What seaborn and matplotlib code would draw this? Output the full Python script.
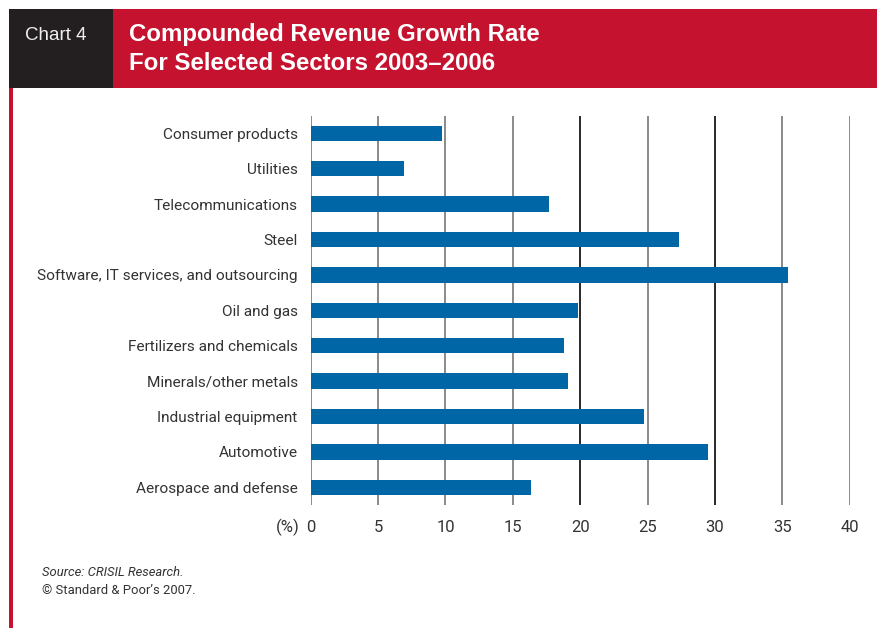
import matplotlib
matplotlib.use("Agg")
import matplotlib.pyplot as plt
import seaborn as sns
import pandas as pd
from matplotlib.patches import Rectangle

# ---- data ----
sectors = [
    "Consumer products",
    "Utilities",
    "Telecommunications",
    "Steel",
    "Software, IT services, and outsourcing",
    "Oil and gas",
    "Fertilizers and chemicals",
    "Minerals/other metals",
    "Industrial equipment",
    "Automotive",
    "Aerospace and defense",
]
growth = [9.75, 6.9, 17.7, 27.35, 35.4, 19.8, 18.8, 19.1, 24.75, 29.5, 16.35]
x_ticks = [0, 5, 10, 15, 20, 25, 30, 35, 40]
x_tick_labels = ["0", "5", "10", "15", "20", "25", "30", "35", "40"]

title_lines = ["Compounded Revenue Growth Rate", "For Selected Sectors 2003\u20132006"]
chart_label = "Chart 4"
source_text = "Source: CRISIL Research."
copyright_text = "\u00a9 Standard & Poor\u2019s 2007."

# ---- styling ----
sns.set_theme(style="white")
plt.rcParams["font.family"] = ["Roboto", "Liberation Sans", "DejaVu Sans"]

W, H = 877, 628
fig = plt.figure(figsize=(W / 100, H / 100), dpi=100)

def fx(x):
    return x / W

def fy(y):
    return 1 - y / H

RED = "#c4122f"
DARK = "#231f20"
BLUE = "#0066a6"
TEXT = "#333333"
HEAD_FONT = ["Liberation Sans", "DejaVu Sans"]

# header blocks
fig.add_artist(Rectangle((fx(9), fy(88)), fx(113) - fx(9), fy(9) - fy(88),
                         transform=fig.transFigure, color=DARK, lw=0))
fig.add_artist(Rectangle((fx(113), fy(88)), fx(877) - fx(113), fy(9) - fy(88),
                         transform=fig.transFigure, color=RED, lw=0))
# left red rule
fig.add_artist(Rectangle((fx(9), fy(628)), fx(13) - fx(9), fy(88) - fy(628),
                         transform=fig.transFigure, color=RED, lw=0))

fig.text(fx(25), fy(36), chart_label, color="#f0f0f0", fontsize=13.5,
         family=HEAD_FONT, va="center", ha="left")
fig.text(fx(129), fy(34), title_lines[0], color="white", fontsize=17.3,
         fontweight="bold", family=HEAD_FONT, va="center", ha="left")
fig.text(fx(129), fy(63), title_lines[1], color="white", fontsize=17.3,
         fontweight="bold", family=HEAD_FONT, va="center", ha="left")

# axes
ax = fig.add_axes([fx(310.7), fy(505), fx(849.7) - fx(310.7), fy(115.6) - fy(505)])
df = pd.DataFrame({"sector": sectors, "growth": growth})
sns.barplot(data=df, x="growth", y="sector", orient="h", color=BLUE,
            width=0.43, saturation=1, ax=ax, zorder=3, linewidth=0)

grid_colors = {0: "#8a8a8a", 5: "#8a8a8a", 10: "#8a8a8a", 15: "#8a8a8a",
               20: "#2a2a2a", 25: "#8a8a8a", 30: "#2a2a2a", 35: "#8a8a8a", 40: "#8a8a8a"}
for t in x_ticks:
    ax.axvline(t, color=grid_colors[t], lw=1.4, zorder=1)

ax.set_xlim(0, 40)
ax.set_ylim(len(sectors) - 0.5, -0.5)
ax.set_xticks(x_ticks)
ax.set_xticklabels(x_tick_labels)
ax.set_xlabel("")
ax.set_ylabel("")
for s in ax.spines.values():
    s.set_visible(False)
ax.tick_params(axis="x", length=0, pad=11, labelsize=12, labelcolor=TEXT)
ax.tick_params(axis="y", length=0, pad=9.4, labelsize=11.1, labelcolor=TEXT)
ax.set_facecolor("white")

fig.text(fx(300), fy(527), "(%)", color=TEXT, fontsize=12, ha="right", va="center")

fig.text(fx(42), fy(572), source_text, color=TEXT, fontsize=9.4, style="italic",
         ha="left", va="center")
fig.text(fx(42), fy(590), copyright_text, color=TEXT, fontsize=9.4,
         ha="left", va="center")

fig.savefig("out.png", dpi=100, facecolor="white")
